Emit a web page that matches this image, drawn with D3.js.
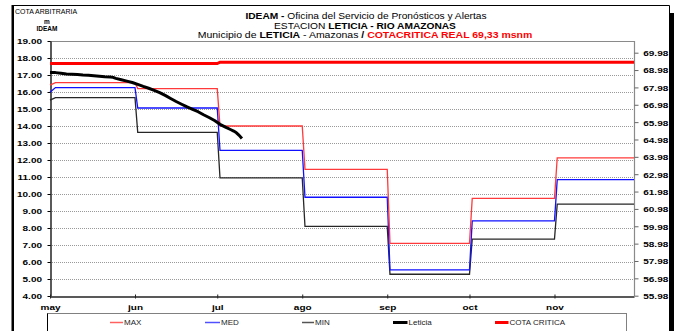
<!DOCTYPE html>
<html><head><meta charset="utf-8">
<script src="https://cdn.jsdelivr.net/npm/d3@7"></script>
<style>
html,body{margin:0;padding:0;background:#fff;}
svg{display:block;font-family:"Liberation Sans",Arial,sans-serif;}
</style></head><body>
<svg id="chart" width="679" height="331"></svg>
<script>
// ---- data ----
const monthLabels = ["may","jun","jul","ago","sep","oct","nov"];
const monthStarts = ["2013-05-01","2013-06-01","2013-07-01","2013-08-01","2013-09-01","2013-10-01","2013-11-01"];
const periodEnd = "2013-11-30";

// monthly reference levels (m, gauge datum IDEAM)
const maxLevels = [16.55, 16.20, 14.00, 11.45, 7.10, 9.74, 12.13];
const medLevels = [16.26, 15.06, 12.57, 9.81, 5.54, 8.42, 10.84];
const minLevels = [15.67, 13.62, 10.95, 8.09, 5.28, 7.35, 9.40];
// levels on 1 May, before the May value settles (MAX, MED, MIN)
const openLevels = [16.40, 15.98, 15.52];

// observed stage at Leticia
const leticiaDates = ["2013-05-01","2013-05-03","2013-05-05","2013-05-07","2013-05-09","2013-05-11","2013-05-13",
  "2013-05-15","2013-05-17","2013-05-19","2013-05-21","2013-05-23","2013-05-24","2013-05-25","2013-05-27",
  "2013-05-29","2013-05-31","2013-06-02","2013-06-04","2013-06-06","2013-06-08","2013-06-10","2013-06-12",
  "2013-06-14","2013-06-16","2013-06-18","2013-06-20","2013-06-22","2013-06-24","2013-06-26","2013-06-28",
  "2013-06-30","2013-07-02","2013-07-04","2013-07-06","2013-07-07","2013-07-08","2013-07-09","2013-07-10"];
const leticiaLevels = [17.15, 17.14, 17.10, 17.06, 17.05, 17.03, 17.00,
  16.99, 16.96, 16.93, 16.90, 16.88, 16.86, 16.80, 16.72,
  16.64, 16.56, 16.45, 16.33, 16.22, 16.10, 15.96, 15.80,
  15.62, 15.44, 15.28, 15.12, 14.98, 14.84, 14.66, 14.50,
  14.32, 14.10, 13.93, 13.78, 13.70, 13.60, 13.45, 13.26];

// critical level (69,33 msnm)
const cotaDates = ["2013-05-01","2013-07-01","2013-07-02","2013-11-30"];
const cotaLevels = [17.67, 17.67, 17.75, 17.75];

const leftTicks = [4,5,6,7,8,9,10,11,12,13,14,15,16,17,18,19];
const rightTicks = [55.98,56.98,57.98,58.98,59.98,60.98,61.98,62.98,63.98,64.98,65.98,66.98,67.98,68.98,69.98];

// ---- layout ----
const svg = d3.select("#chart");
const W = 679, H = 331;
const plot = {left: 50, right: 634, top: 41, bottom: 296};
const parse = d3.timeParse("%Y-%m-%d");
const FONT = "'Liberation Sans', Arial, sans-serif";

const x = d3.scaleTime().domain([parse(monthStarts[0]), parse(periodEnd)]).range([plot.left, plot.right]);
const y = d3.scaleLinear().domain([4, 19]).range([plot.bottom, plot.top]);
const yRight = d3.scaleLinear().domain([55.98, 69.98]).range([295.7, 52.7]);

svg.append("rect").attr("width", W).attr("height", H).attr("fill", "#fff");

// chart frame with shadow on the right
svg.append("rect").attr("x", 669).attr("y", 13).attr("width", 5).attr("height", H - 13).attr("fill", "#000");
svg.append("path").attr("d", `M12.5,${H} V5.5 H669.5 V${H}`).attr("fill", "none").attr("stroke", "#000").attr("stroke-width", 1);
svg.append("rect").attr("x", 11.5).attr("y", 5).attr("width", 2.5).attr("height", H - 5).attr("fill", "#000");

// gridlines
svg.append("g").selectAll("line").data(leftTicks.filter(d => d > 4 && d < 19)).join("line")
  .attr("x1", plot.left).attr("x2", plot.right)
  .attr("y1", d => Math.round(y(d)) + 0.5).attr("y2", d => Math.round(y(d)) + 0.5)
  .attr("stroke", "#999").attr("stroke-width", 1).attr("stroke-dasharray", "1,1");

// plot border (top / right)
svg.append("path").attr("d", `M${plot.left},${plot.top + 0.5} H${plot.right + 0.5} V${plot.bottom}`)
  .attr("fill", "none").attr("stroke", "#8a8a8a").attr("stroke-width", 1.2);

// text helper: Excel-style wide glyphs
function wideText(g, tx, ty, sx, size, weight, anchor) {
  return g.append("text")
    .attr("transform", `translate(${tx},${ty}) scale(${sx},1)`)
    .attr("font-size", size).attr("font-weight", weight || "normal")
    .attr("text-anchor", anchor || "start").attr("fill", "#000");
}

// left axis
const gL = svg.append("g").attr("transform", `translate(${plot.left + 0.5},0)`)
  .call(d3.axisLeft(y).tickValues(leftTicks).tickSize(3).tickSizeOuter(0).tickFormat(d3.format(".2f")));
gL.select(".domain").attr("stroke", "#000").attr("stroke-width", 1.3);
gL.selectAll(".tick line").attr("stroke", "#000");
gL.selectAll(".tick text")
  .attr("x", -6.8).attr("dy", "0.36em")
  .attr("transform", "scale(1.25,1)")
  .attr("font-size", 8).attr("font-weight", "bold").attr("font-family", FONT).attr("fill", "#000");

// right axis
const gR = svg.append("g").attr("transform", `translate(${plot.right + 0.5},0)`)
  .call(d3.axisRight(yRight).tickValues(rightTicks).tickSize(4).tickSizeOuter(0).tickFormat(d3.format(".2f")));
gR.select(".domain").remove();
gR.selectAll(".tick line").attr("stroke", "#666");
gR.selectAll(".tick text")
  .attr("x", 7).attr("dy", "0.36em")
  .attr("transform", "scale(1.25,1)")
  .attr("font-size", 8).attr("font-weight", "bold").attr("font-family", FONT).attr("fill", "#000");

// bottom axis
const gB = svg.append("g").attr("transform", `translate(0,${plot.bottom + 0.5})`)
  .call(d3.axisBottom(x).tickValues(monthStarts.map(parse)).tickSize(2).tickSizeOuter(0)
    .tickFormat((d, i) => monthLabels[i]));
gB.select(".domain").attr("stroke", "#222").attr("stroke-width", 1.3);
gB.selectAll(".tick line").attr("stroke", "#222").attr("y1", -2).attr("y2", 2);
gB.selectAll(".tick text")
  .attr("y", 7.5).attr("dy", "0.71em")
  .attr("transform", "scale(1.25,1)")
  .attr("font-size", 8).attr("font-weight", "bold").attr("font-family", FONT).attr("fill", "#000");

// ---- series ----
function stepPoints(levels, open) {
  const pts = [[parse(monthStarts[0]), open], [d3.timeDay.offset(parse(monthStarts[0]), 2), levels[0]]];
  levels.forEach((v, i) => {
    if (i + 1 < monthStarts.length) {
      const next = parse(monthStarts[i + 1]);
      pts.push([next, v]);
      pts.push([d3.timeDay.offset(next, 1), levels[i + 1]]);
    } else {
      pts.push([parse(periodEnd), v]);
    }
  });
  return pts;
}
const line = d3.line().x(d => x(d[0])).y(d => y(d[1]));
const plotG = svg.append("g");

const stepSeries = [
  {levels: minLevels, open: openLevels[2], color: "#262626", width: 1.3},
  {levels: medLevels, open: openLevels[1], color: "#1010ff", width: 1.3},
  {levels: maxLevels, open: openLevels[0], color: "#ff3a3a", width: 1.3}
];
stepSeries.forEach(s => {
  plotG.append("path").attr("d", line(stepPoints(s.levels, s.open)))
    .attr("fill", "none").attr("stroke", s.color).attr("stroke-width", s.width);
});

plotG.append("path").attr("d", line(cotaDates.map((d, i) => [parse(d), cotaLevels[i]])))
  .attr("fill", "none").attr("stroke", "#ff0000").attr("stroke-width", 3);

plotG.append("path").attr("d", line(leticiaDates.map((d, i) => [parse(d), leticiaLevels[i]])))
  .attr("fill", "none").attr("stroke", "#000").attr("stroke-width", 3).attr("stroke-linejoin", "round");

// ---- titles ----
const tg = svg.append("g").attr("font-family", FONT);
const t1 = wideText(tg, 366, 19, 1.2, 8.5, "normal", "middle");
t1.append("tspan").attr("font-weight", "bold").text("IDEAM -");
t1.append("tspan").text(" Oficina del Servicio de Pronósticos y Alertas");
const t2 = wideText(tg, 365, 28.5, 1.2, 8.5, "normal", "middle");
t2.append("tspan").text("ESTACION ");
t2.append("tspan").attr("font-weight", "bold").text("LETICIA - RIO AMAZONAS");
const t3 = wideText(tg, 365, 38, 1.22, 8.6, "normal", "middle");
t3.append("tspan").text("Municipio de ");
t3.append("tspan").attr("font-weight", "bold").text("LETICIA");
t3.append("tspan").text(" - Amazonas ");
t3.append("tspan").attr("font-weight", "bold").text(" / ");
t3.append("tspan").attr("font-weight", "bold").attr("fill", "#ff0000").text(" COTACRITICA REAL 69,33 msnm");

wideText(tg, 15, 14, 1.0, 7, "normal", "start").text("COTA ARBITRARIA");
wideText(tg, 47, 23.5, 1.0, 6.5, "bold", "middle").text("m");
wideText(tg, 47, 31, 1.0, 6.5, "bold", "middle").text("IDEAM");

// ---- legend ----
const lg = svg.append("g").attr("font-family", FONT);
lg.append("rect").attr("x", 47.5).attr("y", 313.5).attr("width", 579).attr("height", 22)
  .attr("fill", "#fff").attr("stroke", "#808080").attr("stroke-width", 1);
lg.append("line").attr("x1", 47.5).attr("x2", 47.5).attr("y1", 313.5).attr("y2", H).attr("stroke", "#000");
const legendItems = [
  {label: "MAX", color: "#ff6060", width: 1.5, x0: 110, x1: 123},
  {label: "MED", color: "#5050ff", width: 1.5, x0: 205, x1: 220},
  {label: "MIN", color: "#555", width: 1.5, x0: 302, x1: 314},
  {label: "Leticia", color: "#000", width: 3, x0: 393, x1: 407.5},
  {label: "COTA CRITICA", color: "#ff0000", width: 3, x0: 495, x1: 508.5}
];
legendItems.forEach(it => {
  lg.append("line").attr("x1", it.x0).attr("x2", it.x1).attr("y1", 322.5).attr("y2", 322.5)
    .attr("stroke", it.color).attr("stroke-width", it.width);
  wideText(lg, it.x1 + 1, 325, 1.15, 7, "normal", "start").attr("fill", "#222").text(it.label);
});
</script>
</body></html>
